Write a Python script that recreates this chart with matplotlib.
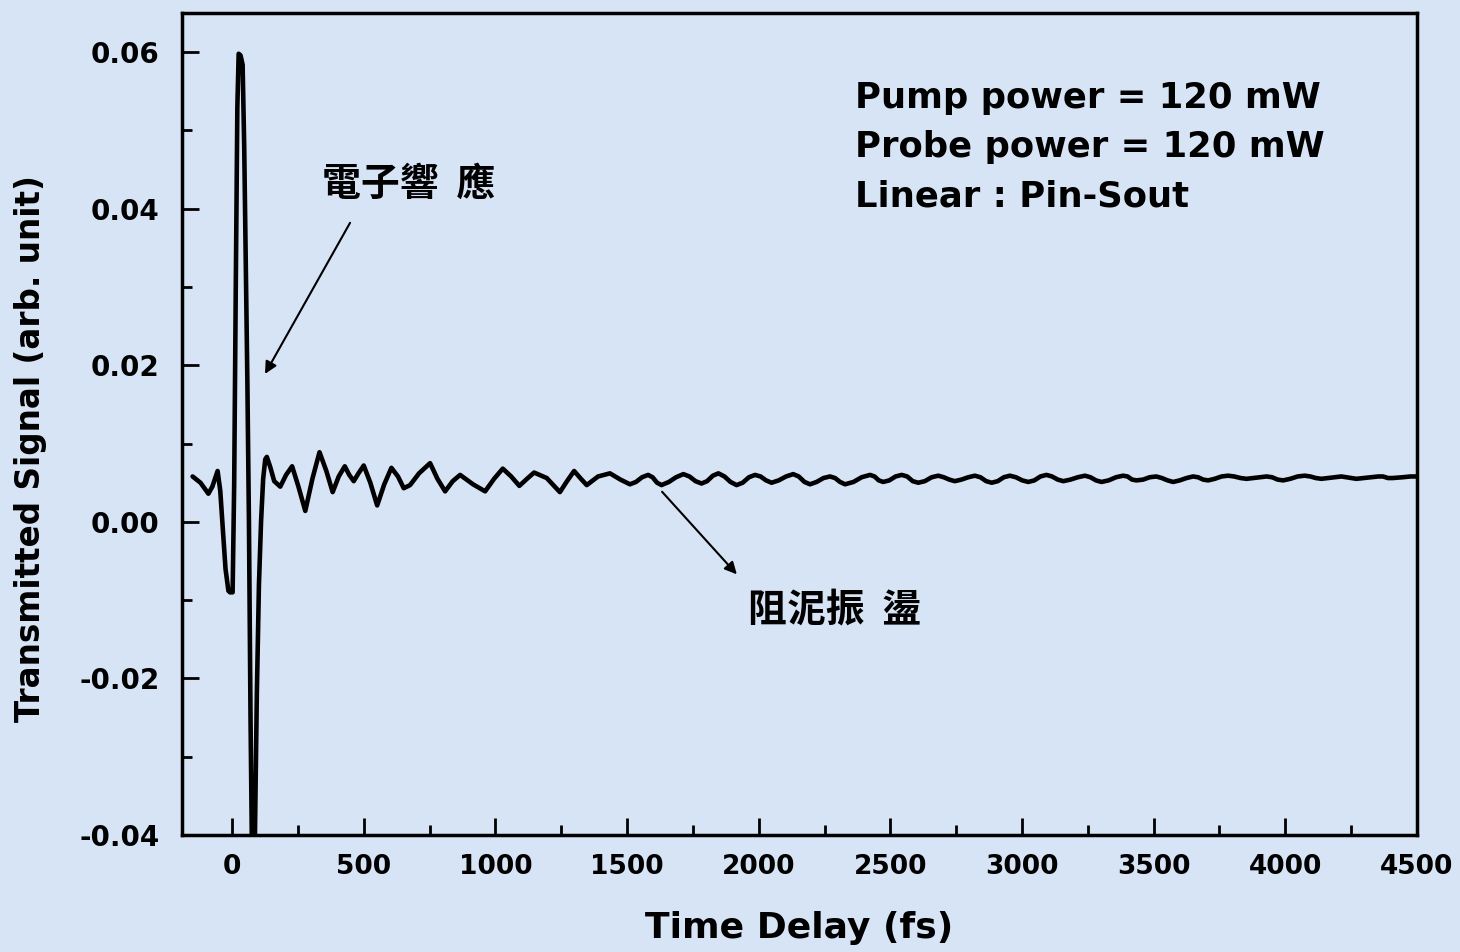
import matplotlib
matplotlib.use("Agg")
import matplotlib.pyplot as plt
from matplotlib.ticker import MultipleLocator

# pump-probe transmitted signal vs. delay
time_fs = [
    -150, -120, -90, -75, -55, -45, -35, -25, -14, -8, 2, 8, 14, 20, 25, 32, 40, 46, 52, 58,
    64, 70, 78, 86, 94, 102, 110, 118, 126, 132, 145, 160, 183, 205, 228, 252, 278, 305, 332, 358,
    382, 405, 428, 445, 462, 480, 500, 525, 551, 578, 605, 630, 652, 676, 710, 752, 780, 809, 838, 866,
    915, 961, 995, 1028, 1060, 1091, 1120, 1147, 1195, 1245, 1272, 1299, 1325, 1347, 1390, 1435, 1475, 1511,
    1534, 1557, 1580, 1597, 1614, 1631, 1659, 1686, 1714, 1737, 1760, 1783, 1804, 1826, 1847, 1870, 1893, 1916,
    1939, 1963, 1986, 2007, 2028, 2049, 2076, 2104, 2131, 2152, 2174, 2195, 2220, 2246, 2271, 2290, 2309, 2328,
    2360, 2391, 2423, 2440, 2456, 2473, 2496, 2520, 2543, 2564, 2585, 2606, 2631, 2657, 2682, 2703, 2724, 2745,
    2770, 2796, 2821, 2842, 2864, 2885, 2908, 2931, 2954, 2977, 3001, 3024, 3047, 3070, 3093, 3114, 3136, 3157,
    3184, 3212, 3239, 3260, 3281, 3302, 3329, 3357, 3384, 3401, 3418, 3435, 3460, 3485, 3510, 3531, 3553, 3574,
    3599, 3625, 3650, 3669, 3688, 3707, 3732, 3758, 3783, 3806, 3830, 3853, 3878, 3904, 3929, 3950, 3971, 3992,
    4019, 4047, 4074, 4095, 4116, 4137, 4162, 4188, 4213, 4232, 4251, 4270, 4298, 4326, 4353, 4371, 4390, 4408,
    4446, 4475, 4500,
]
signal = [
    0.0058, 0.0050, 0.0036, 0.0045, 0.0065, 0.0040, -0.0010, -0.0060, -0.0088, -0.0090, -0.0090, 0.0050, 0.0300, 0.0530, 0.0598, 0.0596, 0.0584, 0.0480, 0.0330, 0.0180,
    0.0000, -0.0250, -0.0500, -0.0420, -0.0220, -0.0080, 0.0000, 0.0055, 0.0080, 0.0083, 0.0070, 0.0052, 0.0045, 0.0060, 0.0071, 0.0045, 0.0014, 0.0055, 0.0089, 0.0065,
    0.0038, 0.0058, 0.0071, 0.0060, 0.0052, 0.0062, 0.0072, 0.0050, 0.0021, 0.0048, 0.0069, 0.0058, 0.0043, 0.0047, 0.0062, 0.0075, 0.0055, 0.0039, 0.0052, 0.0060,
    0.0048, 0.0039, 0.0055, 0.0068, 0.0058, 0.0046, 0.0055, 0.0063, 0.0056, 0.0038, 0.0052, 0.0065, 0.0055, 0.0047, 0.0058, 0.0062, 0.0054, 0.0048,
    0.0051, 0.0057, 0.0060, 0.0057, 0.0050, 0.0047, 0.0051, 0.0057, 0.0061, 0.0058, 0.0052, 0.0049, 0.0052, 0.0059, 0.0062, 0.0058, 0.0051, 0.0047,
    0.0050, 0.0057, 0.0060, 0.0058, 0.0053, 0.0050, 0.0053, 0.0058, 0.0061, 0.0058, 0.0051, 0.0048, 0.0051, 0.0056, 0.0058, 0.0056, 0.0051, 0.0048,
    0.0051, 0.0057, 0.0060, 0.0058, 0.0053, 0.0051, 0.0053, 0.0058, 0.0060, 0.0058, 0.0052, 0.0050, 0.0052, 0.0057, 0.0059, 0.0057, 0.0054, 0.0052,
    0.0054, 0.0057, 0.0059, 0.0057, 0.0052, 0.0050, 0.0052, 0.0057, 0.0059, 0.0057, 0.0053, 0.0051, 0.0053, 0.0058, 0.0060, 0.0058, 0.0054, 0.0052,
    0.0054, 0.0057, 0.0059, 0.0057, 0.0053, 0.0051, 0.0053, 0.0057, 0.0059, 0.0058, 0.0054, 0.0053, 0.0054, 0.0057, 0.0058, 0.0056, 0.0053, 0.0051,
    0.0053, 0.0056, 0.0058, 0.0057, 0.0054, 0.0053, 0.0055, 0.0058, 0.0059, 0.0058, 0.0056, 0.0055, 0.0056, 0.0057, 0.0058, 0.0057, 0.0054, 0.0053,
    0.0055, 0.0058, 0.0059, 0.0058, 0.0056, 0.0055, 0.0056, 0.0057, 0.0058, 0.0057, 0.0056, 0.0055, 0.0056, 0.0057, 0.0058, 0.0058, 0.0056, 0.0056,
    0.0057, 0.0058, 0.0058,
]

x_ticks = [0, 500, 1000, 1500, 2000, 2500, 3000, 3500, 4000, 4500]
y_ticks = [-0.04, -0.02, 0.00, 0.02, 0.04, 0.06]
info_lines = ["Pump power = 120 mW", "Probe power = 120 mW", "Linear : Pin-Sout"]

BG = "#d7e4f5"
CJK = ["Noto Sans CJK TC", "DejaVu Sans"]

plt.rcParams["font.family"] = "DejaVu Sans"
plt.rcParams["font.weight"] = "bold"

fig = plt.figure(figsize=(14.6, 9.52), dpi=100, facecolor=BG)
ax = fig.add_axes([0.1247, 0.1229, 0.8458, 0.8634])
ax.set_facecolor(BG)

ax.plot(time_fs, signal, color="black", linewidth=3.3,
        solid_joinstyle="round", solid_capstyle="round")

ax.set_xlim(-190, 4500)
ax.set_ylim(-0.04, 0.065)

ax.set_xticks(x_ticks)
ax.set_yticks(y_ticks)
ax.set_yticklabels(["%.2f" % v for v in y_ticks])
ax.xaxis.set_minor_locator(MultipleLocator(250))
ax.yaxis.set_minor_locator(MultipleLocator(0.01))
ax.tick_params(which="both", direction="in", top=False, right=False, width=2.0)
ax.tick_params(which="major", length=12)
ax.tick_params(which="minor", length=7)
ax.tick_params(axis="x", which="major", labelsize=19, pad=14)
ax.tick_params(axis="y", which="major", labelsize=20, pad=16)
for lab in ax.get_xticklabels() + ax.get_yticklabels():
    lab.set_fontweight("bold")

for side in ax.spines.values():
    side.set_linewidth(2.5)

ax.set_xlabel("Time Delay (fs)", fontsize=26, fontweight="bold", labelpad=22)
ax.set_ylabel("Transmitted Signal (arb. unit)", fontsize=23.5, fontweight="bold")
ax.yaxis.set_label_coords(-0.109, 0.47)

# annotation block, top right
for i, line in enumerate(info_lines):
    ax.text(2366, 0.0542 - i * 0.0063, line, fontsize=25.5, fontweight="bold",
            va="center", ha="left")

ax.text(342, 0.0431, "電子響  應", family=CJK, fontsize=28, fontweight="bold",
        va="center", ha="left")
ax.annotate("", xy=(125, 0.0189), xytext=(448, 0.0382),
            arrowprops=dict(arrowstyle="-|>", color="black", lw=1.5,
                            mutation_scale=18, shrinkA=0, shrinkB=0))

ax.text(1959, -0.0112, "阻泥振  盪", family=CJK, fontsize=28, fontweight="bold",
        va="center", ha="left")
ax.annotate("", xy=(1917, -0.0067), xytext=(1633, 0.00385),
            arrowprops=dict(arrowstyle="-|>", color="black", lw=1.5,
                            mutation_scale=18, shrinkA=0, shrinkB=0))

fig.savefig("out.png", dpi=100, facecolor=BG)
